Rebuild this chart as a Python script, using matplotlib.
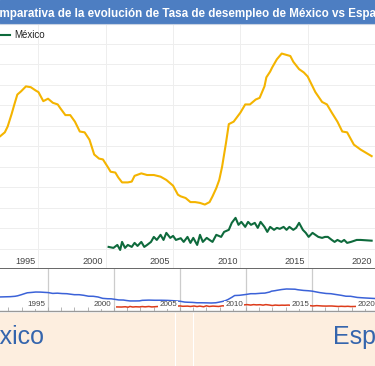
import matplotlib
matplotlib.use("Agg")
import matplotlib.pyplot as plt
from matplotlib.patches import Rectangle
from matplotlib.lines import Line2D
import numpy as np

plt.rcParams['font.family'] = ['Liberation Sans', 'DejaVu Sans']

# ─────────────────────────────────────────
# DATA
# ─────────────────────────────────────────

title = "Comparativa de la evolución de Tasa de desempleo de México vs España"

spain_years = [1991.3, 1992.14, 1992.50, 1992.71, 1993.00, 1993.21, 1993.43, 1993.71, 1994.07,
               1994.43, 1994.79, 1995.00, 1995.36, 1995.71, 1996.07, 1996.43, 1996.64,
               1997.00, 1997.36, 1997.71, 1998.07, 1998.43, 1998.79, 1999.14, 1999.50,
               1999.79, 2000.14, 2000.36, 2000.71, 2000.93, 2001.21, 2001.64, 2001.93,
               2002.14, 2002.64, 2003.07, 2003.57, 2004.07, 2004.50, 2005.00, 2005.36,
               2005.57, 2005.93, 2006.29, 2006.64, 2007.00, 2007.36, 2007.71, 2007.93,
               2008.21, 2008.43, 2008.64, 2008.93, 2009.14, 2009.50, 2010.00, 2010.36,
               2010.71, 2011.14, 2011.43, 2011.79, 2011.93, 2012.21, 2012.36, 2012.71,
               2013.07, 2013.71, 2013.93, 2014.36, 2014.71, 2015.00, 2015.57, 2016.07,
               2016.43, 2016.79, 2017.21, 2017.57, 2017.93, 2018.43, 2018.93, 2019.75]
spain_rate = [15.8, 16.2, 16.7, 17.4, 18.9, 20.1, 21.3, 21.7, 22.3,
              22.2, 21.8, 21.6, 20.5, 20.8, 20.3, 20.1, 19.6,
              18.8, 18.8, 18.0, 16.8, 16.7, 15.8, 14.0, 13.5,
              13.4, 12.5, 11.9, 11.8, 11.2, 10.6, 10.6, 10.7,
              11.4, 11.7, 11.5, 11.5, 11.3, 10.9, 10.2, 9.1,
              8.9, 8.7, 8.2, 8.2, 8.1, 7.9, 8.2, 8.9,
              9.9, 10.9, 12.5, 15.4, 17.7, 18.0, 19.1, 20.1,
              20.1, 20.7, 20.9, 22.3, 23.4, 24.1, 24.6, 25.6,
              26.3, 26.0, 25.3, 24.4, 24.0, 23.5, 21.6, 20.4,
              20.1, 19.1, 18.0, 16.8, 16.7, 15.2, 14.6, 13.8]

mexico_years = [2000.21, 2000.57, 2000.86, 2001.07, 2001.21, 2001.43, 2001.64, 2001.93,
                2002.14, 2002.36, 2002.64, 2002.86, 2003.07, 2003.36, 2003.57, 2003.79,
                2004.07, 2004.29, 2004.50, 2004.79, 2005.00, 2005.21, 2005.57, 2005.79,
                2006.07, 2006.29, 2006.50, 2006.79, 2007.00, 2007.21, 2007.50, 2007.71,
                2007.93, 2008.21, 2008.57, 2008.79, 2009.14, 2009.36, 2009.64, 2009.86,
                2010.07, 2010.36, 2010.57, 2010.79, 2011.07, 2011.29, 2011.50, 2011.79,
                2012.00, 2012.21, 2012.50, 2012.71, 2012.93, 2013.21, 2013.43, 2013.64,
                2013.93, 2014.14, 2014.36, 2014.64, 2014.86, 2015.07, 2015.36, 2015.57,
                2015.79, 2016.07, 2016.29, 2016.50, 2016.79, 2017.00, 2017.21, 2017.50,
                2017.71, 2017.93, 2018.21, 2018.43, 2018.64, 2018.93, 2019.75]
mexico_rate = [2.74, 2.62, 2.98, 2.37, 3.35, 2.62, 2.98, 2.74,
               3.23, 2.86, 3.35, 2.74, 2.98, 3.35, 3.96, 3.59,
               4.21, 3.59, 4.45, 3.84, 4.08, 3.59, 3.80, 3.35,
               3.96, 3.23, 3.84, 2.98, 4.21, 3.35, 3.84, 3.59,
               3.35, 4.21, 3.96, 4.57, 4.82, 5.67, 6.28, 5.43,
               5.79, 5.18, 5.79, 5.43, 5.67, 5.06, 5.79, 5.18,
               4.57, 5.18, 4.82, 5.06, 4.94, 5.18, 4.82, 5.18,
               4.82, 5.06, 5.67, 4.82, 4.45, 3.96, 4.45, 4.21,
               3.96, 3.84, 3.96, 3.96, 3.59, 3.35, 3.59, 3.35,
               3.59, 3.23, 3.35, 3.47, 3.59, 3.59, 3.50]

label_years = [1995, 2000, 2005, 2010, 2015, 2020]
band_labels = ["México", "España"]

# ─────────────────────────────────────────
# FIGURE
# ─────────────────────────────────────────

W, H = 375, 366
fig = plt.figure(figsize=(W / 100, H / 100), dpi=100)

def fx(px):
    return px / W

def fy(px):
    # pixel measured from the top of the picture
    return 1 - px / H

# title bar
fig.patches.append(Rectangle((0, fy(23)), 1, 23 / H, transform=fig.transFigure,
                             color='#4d7ec2', zorder=0))
fig.add_artist(Line2D([0, 1], [fy(23.5)] * 2, transform=fig.transFigure,
                      color='#c9d3e3', lw=0.8))
fig.text(fx(-15.5), fy(17), title, color='white', fontsize=8.4,
         fontweight='bold', va='baseline', ha='left')

# ─────────────────────────────────────────
# MAIN CHART
# ─────────────────────────────────────────

ax = fig.add_axes([0, fy(269.4), 1, (269.4 - 24) / H])
ax.set_xlim(1992.143, 1992.143 + W / 14)
ax.set_ylim(0, 29.9)
ax.plot(spain_years, spain_rate, color='#f4b400', lw=1.5, zorder=3)
ax.plot(mexico_years, mexico_rate, color='#0e6a3c', lw=1.5, zorder=3)

ax.set_xticks(label_years)
ax.set_yticks(np.arange(2.5, 29, 2.5))
ax.grid(color='#eeeeee', lw=0.7)
ax.set_axisbelow(True)
ax.tick_params(length=0, labelbottom=False, labelleft=False)
for s in ['top', 'left', 'right']:
    ax.spines[s].set_visible(False)
ax.spines['bottom'].set_color('#666666')
ax.spines['bottom'].set_linewidth(1.4)

for yr in label_years:
    ax.text(yr - 3 / 14, 1.0, str(yr), ha='right', va='center',
            fontsize=6.6, color='#444444', clip_on=False)

# legend (only México shown)
fig.add_artist(Line2D([0, fx(10)], [fy(34.5)] * 2, transform=fig.transFigure,
                      color='#0e6a3c', lw=1.5))
fig.text(fx(14), fy(34.5), 'México', fontsize=7, color='#222222', va='center')

# ─────────────────────────────────────────
# OVERVIEW (range selector)
# ─────────────────────────────────────────

ov = fig.add_axes([0, fy(311), 1, (311 - 269.4) / H])
ov.set_xlim(1991.364, 1991.364 + W / 13.2)
ov.set_ylim(-2.6, 52)
ov.plot(spain_years, spain_rate, color='#3b62d8', lw=1.1, zorder=2)
ov.plot(mexico_years, mexico_rate, color='#dd3b1a', lw=1.1, zorder=2)
for yr in label_years[:-1]:
    ov.axvline(yr, color='#cccccc', lw=0.9, zorder=1)
ov.set_xticks([])
ov.set_yticks([])
ov.set_xticks(range(1992, 2020), minor=True)
ov.tick_params(which='minor', direction='in', length=3, color='#aaaaaa',
               labelbottom=False)
for s in ['top', 'left', 'right']:
    ov.spines[s].set_visible(False)
ov.spines['bottom'].set_color('#999999')
ov.spines['bottom'].set_linewidth(1.0)
for yr in label_years:
    ov.text(yr - 3 / 13.2, 5.3, str(yr), ha='right', va='center', fontsize=5.8,
            color='#444444', zorder=4, clip_on=False,
            bbox=dict(facecolor='white', edgecolor='none', pad=0.6))

# ─────────────────────────────────────────
# PEACH BAND WITH SERIES NAMES
# ─────────────────────────────────────────

fig.patches.append(Rectangle((0, 0), 1, 53 / H, transform=fig.transFigure,
                             color='#fdeedf', zorder=0))
for px in [175, 193]:
    fig.add_artist(Line2D([fx(px)] * 2, [0, 53 / H], transform=fig.transFigure,
                          color='white', lw=0.8))
fig.text(fx(-35), fy(344), band_labels[0], fontsize=18, color='#3565ad',
         va='baseline', ha='left')
fig.text(fx(333), fy(344), band_labels[1], fontsize=18, color='#3565ad',
         va='baseline', ha='left')

fig.savefig('out.png', dpi=100)
